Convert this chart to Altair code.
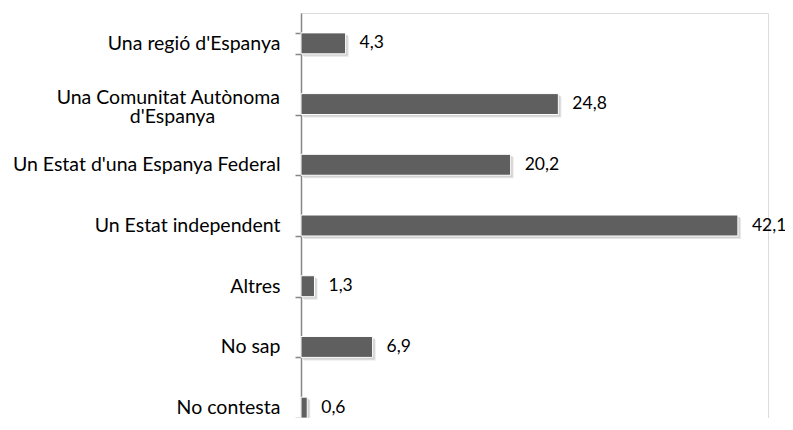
import altair as alt
import pandas as pd

NB = "\u00a0"
categories = [
    "Una regió d'Espanya",
    "Una Comunitat Autònoma|d'Espanya" + NB * 13 + "\u200b",
    "Un Estat d'una Espanya Federal",
    "Un Estat independent",
    "Altres",
    "No sap",
    "No contesta",
]
values = [4.3, 24.8, 20.2, 42.1, 1.3, 6.9, 0.6]
value_labels = ["4,3", "24,8", "20,2", "42,1", "1,3", "6,9", "0,6"]

df = pd.DataFrame({"cat": categories, "val": values, "lab": value_labels})

FONT = "Lato"
FS = 19.5

y = alt.Y(
    "cat:N",
    sort=None,
    scale=alt.Scale(range=[0, 425], paddingInner=0.655, paddingOuter=0.3275),
    axis=alt.Axis(
        title=None,
        domainColor="#868686",
        domainWidth=1.5,
        tickColor="#868686",
        tickWidth=1.5,
        tickSize=6,
        tickBand="extent",
        labelPadding=15,
        labelFont=FONT,
        labelFontSize=FS,
        labelColor="#000000",
        labelExpr="indexof(datum.label, '|') >= 0 ? '' : datum.label",
        labelLimit=400,
    ),
)
x = alt.X("val:Q", scale=alt.Scale(domain=[0, 45]), axis=None)

base = alt.Chart(df).encode(y=y, x=x)

shadow2 = base.mark_bar(color="#e6e6e6", xOffset=3, yOffset=3)
shadow1 = base.mark_bar(color="#d2d2d2", xOffset=2, yOffset=2)
bars = base.mark_bar(color="#5f5f5f", stroke="#ffffff", strokeWidth=1)
texts = base.mark_text(
    align="left", baseline="middle", dx=14, font=FONT, fontSize=17.5, color="#000000"
).encode(text="lab:N")

# the two-line category label, drawn next to the axis
multiline = (
    alt.Chart(df)
    .transform_filter("indexof(datum.cat, '|') >= 0")
    .mark_text(
        align="right",
        baseline="middle",
        dx=-21,
        dy=-6,
        lineBreak="|",
        lineHeight=19,
        font=FONT,
        fontSize=FS,
        color="#000000",
    )
    .encode(y=alt.Y("cat:N", sort=None), x=alt.datum(0), text="cat:N")
)

chart = (
    alt.layer(shadow2, shadow1, bars, texts, multiline)
    .properties(
        width=467,
        height=405,
        autosize=alt.AutoSizeParams(type="none"),
        padding={"left": 293, "top": 5, "right": 17, "bottom": 0},
    )
    .configure_view(strokeWidth=0, stroke=None)
    .configure(background="#ffffff")
)

chart.save("out.html", embed_options={"renderer": "svg", "actions": False})
